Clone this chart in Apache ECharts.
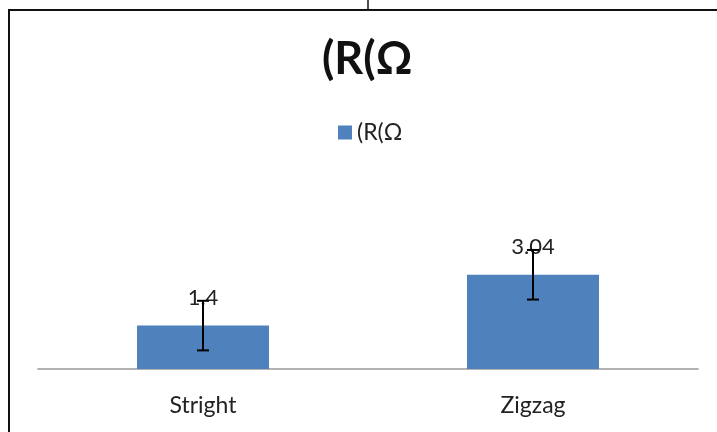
<!DOCTYPE html>
<html>
<head>
<meta charset="utf-8">
<script src="https://cdn.jsdelivr.net/npm/echarts@6/dist/echarts.min.js"></script>
<style>
  html, body { margin: 0; padding: 0; background: #fff; }
  #main { width: 717px; height: 432px; }
</style>
</head>
<body>
<div id="main"></div>
<script>
// data
const categories = ["Stright", "Zigzag"];
const values = [1.4, 3.04];
const errors = [0.8, 0.8];
const seriesName = "(R(Ω";

const myChart = echarts.init(document.getElementById("main"));
const font = "Lato, 'Open Sans', sans-serif";

const errData = values.map((v, i) => [i, v, errors[i]]);

const option = {
  animation: false,
  title: {
    text: seriesName,
    left: 317,
    top: 32,
    textStyle: { fontFamily: font, fontWeight: 'bold', fontSize: 45, color: '#111' }
  },
  legend: {
    data: [seriesName],
    top: 116,
    left: 333,
    icon: 'rect',
    itemWidth: 14,
    itemHeight: 14,
    itemGap: 6,
    textStyle: { fontFamily: font, fontSize: 23, color: '#222' }
  },
  grid: { left: 38, right: 19, top: 214, bottom: 63 },
  xAxis: {
    type: 'category',
    data: categories,
    axisLine: { lineStyle: { color: '#999', width: 1.5 } },
    axisTick: { show: false },
    axisLabel: { fontFamily: font, fontSize: 23, color: '#222', margin: 25 }
  },
  yAxis: {
    type: 'value',
    min: 0,
    max: 5,
    show: false
  },
  graphic: [
    {
      type: 'rect',
      shape: { x: 9, y: 10, width: 800, height: 500 },
      style: { fill: 'none', stroke: '#111', lineWidth: 2 }
    },
    {
      type: 'line',
      shape: { x1: 368, y1: 0, x2: 368, y2: 9 },
      style: { stroke: '#111', lineWidth: 1.5 }
    }
  ],
  series: [
    {
      name: seriesName,
      type: 'bar',
      data: values,
      barCategoryGap: '60%',
      itemStyle: { color: '#4F81BD' },
      label: {
        show: true,
        position: 'top',
        distance: 17,
        fontFamily: font,
        fontSize: 22,
        color: '#222'
      }
    },
    {
      name: 'error',
      type: 'custom',
      data: errData,
      encode: { x: 0, y: 1 },
      z: 10,
      renderItem: function (params, api) {
        const x = api.value(0);
        const v = api.value(1);
        const e = api.value(2);
        const hi = api.coord([x, v + e]);
        const lo = api.coord([x, v - e]);
        const cap = 6;
        const style = { stroke: '#000', lineWidth: 2 };
        return {
          type: 'group',
          children: [
            { type: 'line', shape: { x1: hi[0], y1: hi[1], x2: lo[0], y2: lo[1] }, style: style },
            { type: 'line', shape: { x1: hi[0] - cap, y1: hi[1], x2: hi[0] + cap, y2: hi[1] }, style: style },
            { type: 'line', shape: { x1: lo[0] - cap, y1: lo[1], x2: lo[0] + cap, y2: lo[1] }, style: style }
          ]
        };
      }
    }
  ]
};

myChart.setOption(option);
</script>
</body>
</html>
